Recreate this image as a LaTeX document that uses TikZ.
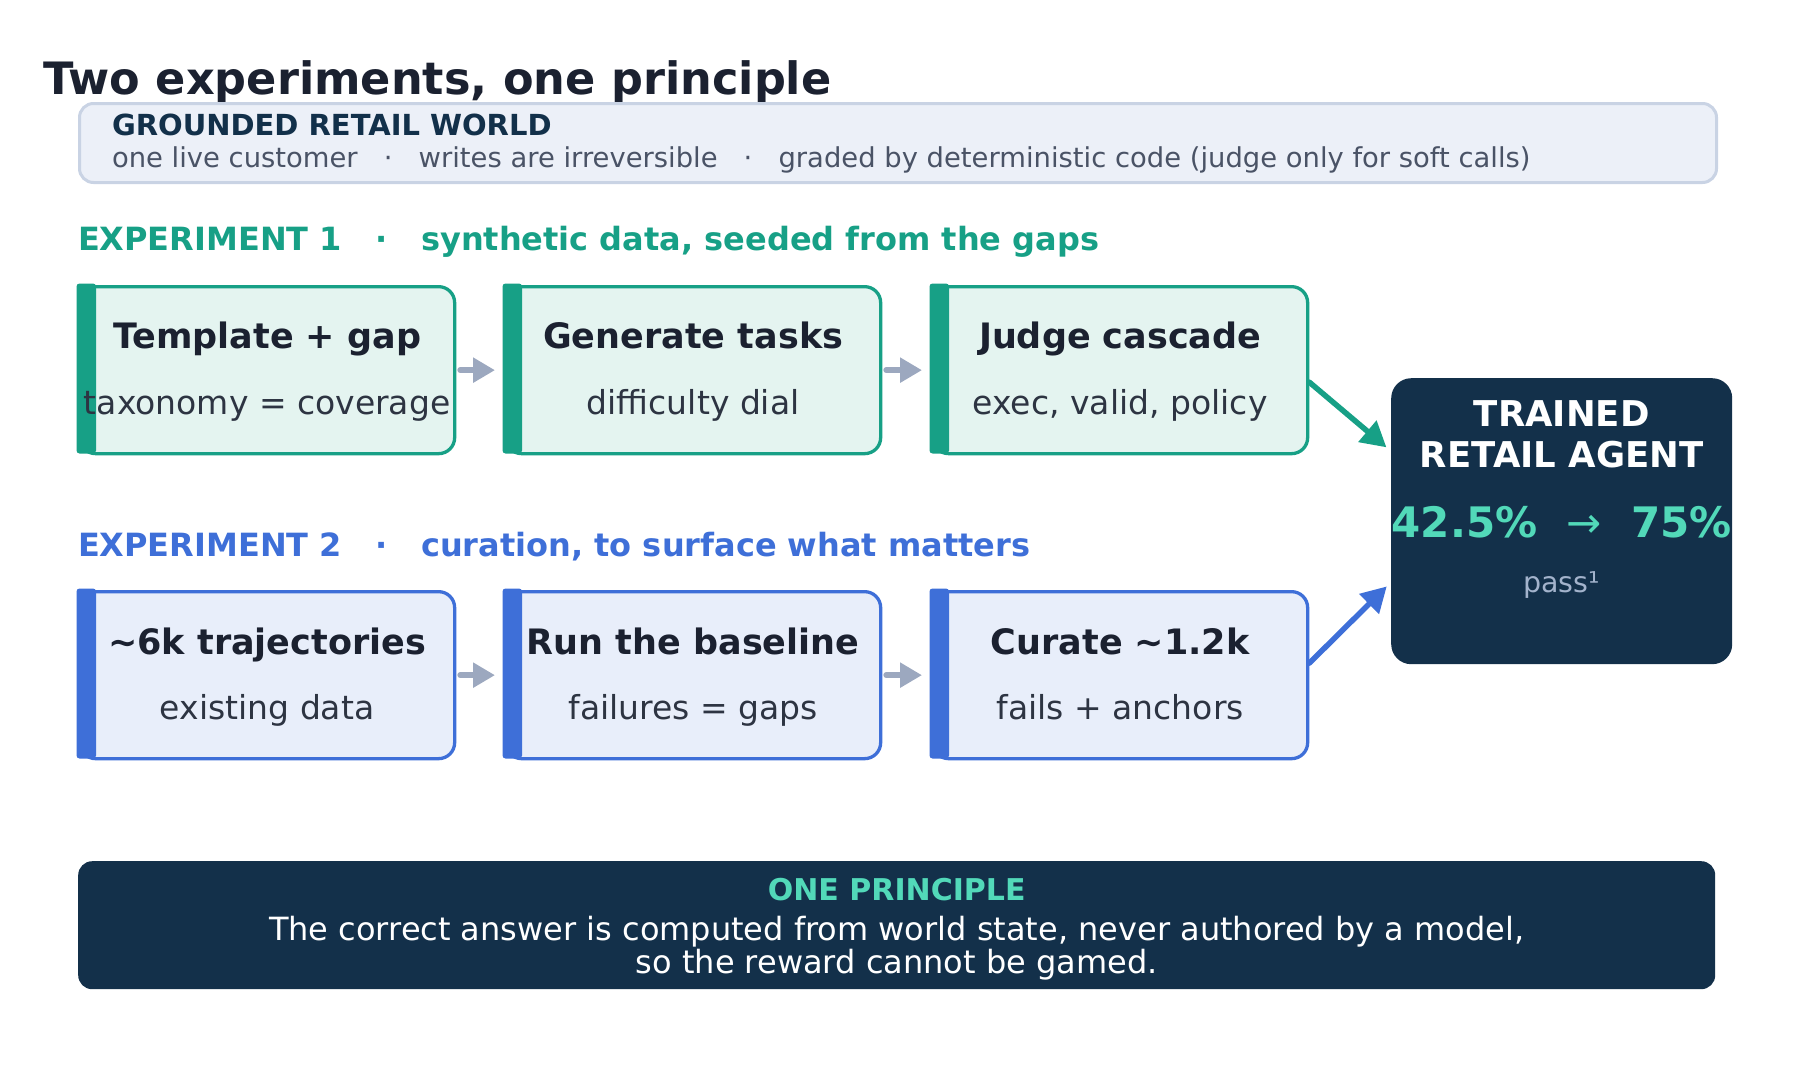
\documentclass[tikz,border=0pt]{standalone}
\usepackage{fontspec}
\setmainfont{DejaVu Sans}
\usetikzlibrary{arrows.meta,calc}
\definecolor{ink}{HTML}{1B2130}
\definecolor{subink}{HTML}{2D3442}
\definecolor{hdrink}{HTML}{12304A}
\definecolor{hdrgray}{HTML}{4A5366}
\definecolor{hdrfill}{HTML}{ECF0F8}
\definecolor{hdrline}{HTML}{C9D3E4}
\definecolor{teal}{HTML}{17A086}
\definecolor{tealbg}{HTML}{E4F4F0}
\definecolor{blue}{HTML}{3E6FD8}
\definecolor{bluebg}{HTML}{E8EEFA}
\definecolor{navy}{HTML}{13304A}
\definecolor{mint}{HTML}{52D9B9}
\definecolor{arrgray}{HTML}{9CA8BF}
\definecolor{passgray}{HTML}{A3B3CC}
\newcommand{\fs}[2]{\fontsize{#1}{#2}\selectfont}
\begin{document}
\begin{tikzpicture}[x=1pt,y=-1pt,
  txt/.style={inner sep=0pt, outer sep=0pt, anchor=base},
  stagebox/.style={rounded corners=16pt, line width=3.3pt, minimum width=375pt, minimum height=167pt, anchor=north west, inner sep=0pt},
  tealbox/.style={stagebox, draw=teal, fill=tealbg},
  bluebox/.style={stagebox, draw=blue, fill=bluebg},
  stitle/.style={txt, font=\fs{35}{40}\bfseries, text=ink},
  ssub/.style={txt, font=\fs{33}{38}, text=subink},
  flow/.style={draw=arrgray, line width=6pt, line cap=round, -{Triangle[length=22pt,width=24pt]}, shorten <=4pt, shorten >=9pt},
  link/.style={line width=5.5pt, line cap=round, -{Triangle[length=25pt,width=27pt]}, shorten >=6pt},
]
\useasboundingbox (0,0) rectangle (1793,1073);

% title
\node[txt, anchor=base west, font=\fs{44.6}{50}\bfseries, text=ink] (title) at (43,94) {Two experiments, one principle};

% header
\node[fill=hdrfill, draw=hdrline, line width=3pt, rounded corners=14pt, minimum width=1637pt, minimum height=79pt, anchor=north west, inner sep=0pt] (hdr) at (78,102) {};
\node[txt, anchor=base west, font=\fs{29}{34}\bfseries, text=hdrink] (hdrt) at (112,135) {GROUNDED RETAIL WORLD};
\node[txt, anchor=base west, font=\fs{27.4}{32}, text=hdrgray] (hdrs) at (112,167) {one live customer~~~·~~~writes are irreversible~~~·~~~graded by deterministic code (judge only for soft calls)};

% experiment labels
\node[txt, anchor=base west, font=\fs{32}{38}\bfseries, text=teal] (e1) at (78,250) {EXPERIMENT 1~~~·~~~synthetic data, seeded from the gaps};
\node[txt, anchor=base west, font=\fs{32}{38}\bfseries, text=blue] (e2) at (78,556) {EXPERIMENT 2~~~·~~~curation, to surface what matters};

% row 1
\node[tealbox] (t1) at (78,285) {};
\node[tealbox] (t2) at (504,285) {};
\node[tealbox] (t3) at (931,285) {};
\foreach \n in {t1,t2,t3}{
  \fill[teal, rounded corners=3pt] (\n.north west) ++(-1.5,-1.5) rectangle ++(19.5,170);
}
\node[stitle] (t1a) at ($(t1.north)+(0,63)$) {Template + gap};
\node[ssub]   (t1b) at ($(t1.north)+(0,129)$) {taxonomy = coverage};
\node[stitle] (t2a) at ($(t2.north)+(0,63)$) {Generate tasks};
\node[ssub]   (t2b) at ($(t2.north)+(0,129)$) {difficulty dial};
\node[stitle] (t3a) at ($(t3.north)+(0,63)$) {Judge cascade};
\node[ssub]   (t3b) at ($(t3.north)+(0,129)$) {exec, valid, policy};

% row 2
\node[bluebox] (b1) at (78,590) {};
\node[bluebox] (b2) at (504,590) {};
\node[bluebox] (b3) at (931,590) {};
\foreach \n in {b1,b2,b3}{
  \fill[blue, rounded corners=3pt] (\n.north west) ++(-1.5,-1.5) rectangle ++(19.5,170);
}
\node[stitle] (b1a) at ($(b1.north)+(0,64)$) {\textasciitilde 6k trajectories};
\node[ssub]   (b1b) at ($(b1.north)+(0,129)$) {existing data};
\node[stitle] (b2a) at ($(b2.north)+(0,64)$) {Run the baseline};
\node[ssub]   (b2b) at ($(b2.north)+(0,129)$) {failures = gaps};
\node[stitle] (b3a) at ($(b3.north)+(0,64)$) {Curate \textasciitilde 1.2k};
\node[ssub]   (b3b) at ($(b3.north)+(0,129)$) {fails + anchors};

% flow arrows
\draw[flow] (t1.east) -- (t2.west);
\draw[flow] (t2.east) -- (t3.west);
\draw[flow] (b1.east) -- (b2.west);
\draw[flow] (b2.east) -- (b3.west);

% agent box
\node[fill=navy, rounded corners=20pt, minimum width=341pt, minimum height=286pt, anchor=north west, inner sep=0pt] (ag) at (1391,378) {};
\node[txt, font=\fs{35.5}{40}\bfseries, text=white] (ag1) at ($(ag.north)+(0,48)$) {TRAINED};
\node[txt, font=\fs{35.5}{40}\bfseries, text=white] (ag2) at ($(ag.north)+(0,89)$) {RETAIL AGENT};
\node[txt, font=\fs{42}{48}\bfseries, text=mint] (ag3) at ($(ag.north)+(0,159)$) {42.5\%~~\textmd{→}~~75\%};
\node[txt, font=\fs{28.5}{34}, text=passgray] (ag4) at ($(ag.north)+(0,214)$) {pass¹};

% links
\draw[link, draw=teal] ([yshift=-12pt]t3.east) -- ([yshift=70pt]ag.west);
\draw[link, draw=blue] ([yshift=12pt]b3.east) -- ([yshift=-61pt]ag.west);

% principle
\node[fill=navy, rounded corners=14pt, minimum width=1637pt, minimum height=128pt, anchor=north west, inner sep=0pt] (pr) at (78,861) {};
\node[txt, font=\fs{30}{34}\bfseries, text=mint] (pr1) at ($(pr.north)+(0,39)$) {ONE PRINCIPLE};
\node[txt, font=\fs{32}{36}, text=white] (pr2) at ($(pr.north)+(0,79)$) {The correct answer is computed from world state, never authored by a model,};
\node[txt, font=\fs{32}{36}, text=white] (pr3) at ($(pr.north)+(0,112)$) {so the reward cannot be gamed.};
\end{tikzpicture}
\end{document}
